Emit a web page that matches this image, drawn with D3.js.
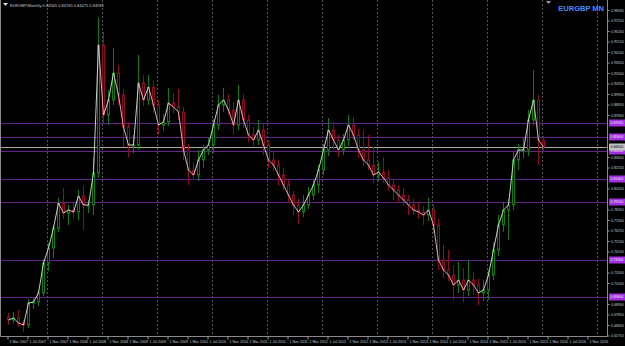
<!DOCTYPE html>
<html>
<head>
<meta charset="utf-8">
<script src="https://cdn.jsdelivr.net/npm/d3@7"></script>
<style>
	html, body { margin: 0; padding: 0; background: #000; }
	svg { display: block; font-family: "Liberation Sans", "DejaVu Sans", sans-serif; }
</style>
</head>
<body>
<svg id="chart"></svg>
<script>
// EURGBP monthly bars, Mar 2007 onwards
var openPrices = [
	0.6760,0.6730,0.6750,0.6700,0.6680,0.6900,0.6910,0.7000,0.7300,0.7450,
	0.7650,0.7900,0.7800,0.7830,0.7810,0.7970,0.7880,0.7880,0.8200,0.9480,
	0.8780,0.8930,0.9200,0.8980,0.8660,0.8480,0.8480,0.9100,0.8930,0.9060,
	0.8880,0.8680,0.8710,0.8900,0.8860,0.8810,0.8430,0.8230,0.8180,0.8330,
	0.8430,0.8480,0.8680,0.8880,0.8930,0.8830,0.8680,0.8930,0.8730,0.8580,
	0.8530,0.8630,0.8480,0.8330,0.8280,0.8180,0.8080,0.7980,0.7880,0.7810,
	0.7880,0.7980,0.8080,0.8230,0.8430,0.8630,0.8530,0.8430,0.8530,0.8680,
	0.8580,0.8430,0.8330,0.8280,0.8180,0.8210,0.8150,0.8080,0.8030,0.7980,
	0.7930,0.7880,0.7830,0.7810,0.7780,0.7830,0.7680,0.7330,0.7230,0.7180,
	0.7080,0.7130,0.7030,0.7130,0.7080,0.7000,0.7030,0.7180,0.7430,0.7680,
	0.7830,0.7880,0.8330,0.8430,0.8430,0.8730,0.8930,0.8530
];
var highPrices = [
	0.6800,0.6810,0.6830,0.6730,0.6940,0.6960,0.7030,0.7340,0.7500,0.7680,
	0.7950,0.8050,0.7880,0.7910,0.8030,0.8070,0.7930,0.8350,0.9760,0.9610,
	0.9030,0.9450,0.9280,0.9040,0.8710,0.8580,0.9380,0.9180,0.9180,0.9120,
	0.8930,0.8790,0.9050,0.9000,0.9040,0.8860,0.8490,0.8310,0.8430,0.8480,
	0.8550,0.8740,0.8980,0.9050,0.8990,0.8910,0.9080,0.8990,0.8780,0.8660,
	0.8730,0.8690,0.8530,0.8410,0.8330,0.8250,0.8130,0.8020,0.7940,0.7980,
	0.8060,0.8140,0.8280,0.8490,0.8750,0.8710,0.8580,0.8590,0.8780,0.8760,
	0.8640,0.8630,0.8580,0.8460,0.8310,0.8360,0.8230,0.8140,0.8080,0.8050,
	0.7980,0.7940,0.7910,0.7870,0.7950,0.7880,0.7740,0.7480,0.7430,0.7280,
	0.7310,0.7250,0.7330,0.7210,0.7140,0.7130,0.7230,0.7510,0.7780,0.7910,
	0.7940,0.8410,0.8490,0.8550,0.8830,0.9230,0.8980,0.8570
];
var lowPrices = [
	0.6680,0.6700,0.6660,0.6610,0.6650,0.6840,0.6870,0.6970,0.7220,0.7350,
	0.7610,0.7740,0.7680,0.7750,0.7730,0.7630,0.7800,0.7780,0.8150,0.8700,
	0.8680,0.8880,0.8880,0.8460,0.8360,0.8400,0.8430,0.8870,0.8880,0.8800,
	0.8580,0.8620,0.8670,0.8800,0.8730,0.8330,0.8080,0.8130,0.8120,0.8250,
	0.8380,0.8400,0.8630,0.8810,0.8780,0.8580,0.8630,0.8650,0.8510,0.8470,
	0.8480,0.8380,0.8250,0.8220,0.8080,0.8030,0.7900,0.7780,0.7690,0.7760,
	0.7840,0.7930,0.8000,0.8180,0.8370,0.8430,0.8360,0.8380,0.8470,0.8530,
	0.8350,0.8270,0.8230,0.8100,0.8120,0.8100,0.8020,0.7930,0.7900,0.7870,
	0.7780,0.7780,0.7740,0.7680,0.7720,0.7600,0.7230,0.7150,0.7120,0.6930,
	0.7000,0.6910,0.6970,0.6980,0.6880,0.6920,0.6930,0.7130,0.7370,0.7610,
	0.7530,0.7830,0.8230,0.8350,0.8370,0.8680,0.8280,0.8410
];
var closePrices = [
	0.6730,0.6750,0.6700,0.6680,0.6900,0.6910,0.7000,0.7300,0.7450,0.7650,
	0.7900,0.7800,0.7830,0.7810,0.7970,0.7880,0.7880,0.8200,0.9480,0.8780,
	0.8930,0.9200,0.8980,0.8660,0.8480,0.8480,0.9100,0.8930,0.9060,0.8880,
	0.8680,0.8710,0.8900,0.8860,0.8810,0.8430,0.8230,0.8180,0.8330,0.8430,
	0.8480,0.8680,0.8880,0.8930,0.8830,0.8680,0.8930,0.8730,0.8580,0.8530,
	0.8630,0.8480,0.8330,0.8280,0.8180,0.8080,0.7980,0.7880,0.7810,0.7880,
	0.7980,0.8080,0.8230,0.8430,0.8630,0.8530,0.8430,0.8530,0.8680,0.8580,
	0.8430,0.8330,0.8280,0.8180,0.8210,0.8150,0.8080,0.8030,0.7980,0.7930,
	0.7880,0.7830,0.7810,0.7780,0.7830,0.7680,0.7330,0.7230,0.7180,0.7080,
	0.7130,0.7030,0.7130,0.7080,0.7000,0.7030,0.7180,0.7430,0.7680,0.7830,
	0.7880,0.8330,0.8430,0.8430,0.8730,0.8930,0.8530,0.8460
];

// horizontal levels drawn on the chart, and the current bid
var levelPrices = [0.8700, 0.8560, 0.8420, 0.8140, 0.7910, 0.7330, 0.6960];
var bidPrice = 0.8460;

// right-hand price scale labels
var priceTicks = [
	0.9830,0.9725,0.9620,0.9515,0.9410,0.9305,0.9200,0.9095,0.8990,0.8885,
	0.8780,0.8675,0.8570,0.8465,0.8360,0.8255,0.8150,0.8045,0.7940,0.7835,
	0.7730,0.7625,0.7520,0.7415,0.7310,0.7205,0.7100,0.6995,0.6890,0.6785,
	0.6680,0.6575
];

// bottom time scale labels (one every 4 bars)
var timeLabels = [
	"1 Mar 2007","1 Jul 2007","1 Nov 2007","1 Mar 2008","1 Jul 2008","1 Nov 2008",
	"1 Mar 2009","1 Jul 2009","1 Nov 2009","1 Mar 2010","1 Jul 2010","1 Nov 2010",
	"1 Mar 2011","1 Jul 2011","1 Nov 2011","1 Mar 2012","1 Jul 2012","1 Nov 2012",
	"1 Mar 2013","1 Jul 2013","1 Nov 2013","1 Mar 2014","1 Jul 2014","1 Nov 2014",
	"1 Mar 2015","1 Jul 2015","1 Nov 2015","1 Mar 2016","1 Jul 2016","1 Nov 2016"
];

var W = 625, H = 346;
var plotRight = 607, plotBottom = 336;
var fmt = d3.format(".5f");

var months = d3.timeMonth.range(new Date(2007, 2, 1), new Date(2017, 2, 1));
var bars = closePrices.map(function(c, i) {
	return { month: months[i], o: openPrices[i], h: highPrices[i], l: lowPrices[i], c: c };
});

var svg = d3.select("#chart").attr("width", W).attr("height", H);
svg.append("rect").attr("width", W).attr("height", H).attr("fill", "#000");

var xScale = d3.scaleBand().domain(months).range([5.5, 605.5]).padding(0);
var yScale = d3.scaleLinear().domain([0.657, 0.993]).range([plotBottom, 0]);
var mid = function(d) { return Math.round(xScale(d) + xScale.bandwidth() / 2); };

// dashed vertical separators
var gridMonths = months.filter(function(d, i) { return i % 11 === 8; });
svg.append("g").selectAll("line").data(gridMonths).enter().append("line")
	.attr("x1", function(d) { return mid(d) - 0.5; })
	.attr("x2", function(d) { return mid(d) - 0.5; })
	.attr("y1", 0).attr("y2", plotBottom)
	.attr("stroke", "#555").attr("stroke-dasharray", "2,2");

// level lines
svg.append("g").selectAll("line").data(levelPrices).enter().append("line")
	.attr("x1", 0).attr("x2", plotRight)
	.attr("y1", function(d) { return Math.round(yScale(d)) + 0.5; })
	.attr("y2", function(d) { return Math.round(yScale(d)) + 0.5; })
	.attr("stroke", "#62248a").attr("stroke-width", 1);
svg.append("line")
	.attr("x1", 0).attr("x2", plotRight)
	.attr("y1", Math.round(yScale(bidPrice)) + 0.5).attr("y2", Math.round(yScale(bidPrice)) + 0.5)
	.attr("stroke", "#a8a8a8");

// candles
var up = "#0d7c0d", down = "#8c0c22";
var candles = svg.append("g").selectAll("g").data(bars).enter().append("g");
candles.append("line")
	.attr("x1", function(d) { return mid(d.month) + 0.5; })
	.attr("x2", function(d) { return mid(d.month) + 0.5; })
	.attr("y1", function(d) { return yScale(d.h); })
	.attr("y2", function(d) { return yScale(d.l); })
	.attr("stroke", function(d) { return d.c >= d.o ? up : down; });
candles.append("rect")
	.attr("x", function(d) { return mid(d.month) - 0.5; })
	.attr("width", 2)
	.attr("y", function(d) { return yScale(Math.max(d.o, d.c)); })
	.attr("height", function(d) { return Math.max(1, Math.abs(yScale(d.o) - yScale(d.c))); })
	.attr("fill", "#000")
	.attr("stroke", function(d) { return d.c >= d.o ? up : down; });

// close line, tinted by direction
var segs = d3.pairs(bars);
svg.append("g").selectAll("line").data(segs).enter().append("line")
	.attr("x1", function(d) { return mid(d[0].month) + 0.5; })
	.attr("x2", function(d) { return mid(d[1].month) + 0.5; })
	.attr("y1", function(d) { return yScale(d[0].c); })
	.attr("y2", function(d) { return yScale(d[1].c); })
	.attr("stroke", function(d) { return d[1].c >= d[0].c ? "#d6ecd6" : "#ecc6c6"; })
	.attr("stroke-width", 0.9);

// frame
svg.append("path")
	.attr("d", "M0.5,0V" + (plotBottom + 0.5) + "H" + (plotRight + 0.5) + "V0")
	.attr("fill", "none").attr("stroke", "#8a8a8a");

// price axis; labels hidden where a tag sits on top
var tagPrices = levelPrices.concat([bidPrice]);
var freeTicks = priceTicks.filter(function(p) {
	return !tagPrices.some(function(t) { return Math.abs(yScale(t) - yScale(p)) < 6; });
});
var yAxis = svg.append("g")
	.attr("transform", "translate(" + (plotRight + 0.5) + ",0)")
	.call(d3.axisRight(yScale).tickValues(freeTicks).tickFormat(fmt).tickSize(2).tickPadding(1.5));
yAxis.select(".domain").remove();
yAxis.selectAll("line").attr("stroke", "#9a9a9a");
yAxis.selectAll("text").attr("fill", "#c8c8c8").attr("font-size", 3.5);

// time axis
var tickMonths = months.filter(function(d, i) { return i % 4 === 0; });
var xAxis = svg.append("g")
	.attr("transform", "translate(0," + (plotBottom + 0.5) + ")")
	.call(d3.axisBottom(xScale).tickValues(tickMonths)
		.tickFormat(function(d, i) { return timeLabels[i]; }).tickSize(3).tickPadding(1.5));
xAxis.select(".domain").remove();
xAxis.selectAll("line").attr("stroke", "#9a9a9a");
xAxis.selectAll("text").attr("fill", "#c8c8c8").attr("font-size", 3.6)
	.attr("text-anchor", "start").attr("dx", 1.5).attr("dy", "0.6em");

// level / bid tags on the price axis
var tags = svg.append("g");
levelPrices.forEach(function(p) {
	var yy = Math.round(yScale(p));
	tags.append("rect").attr("x", 609).attr("y", yy - 3.5).attr("width", 16).attr("height", 7).attr("fill", "#a030e0");
	tags.append("text").attr("x", 610.5).attr("y", yy + 1.3).attr("font-size", 3.5).attr("fill", "#f4e8ff").text(fmt(p));
});
var by = Math.round(yScale(bidPrice));
tags.append("rect").attr("x", 609).attr("y", by - 3.5).attr("width", 16).attr("height", 7).attr("fill", "#c4c4c4");
tags.append("text").attr("x", 610.5).attr("y", by + 1.3).attr("font-size", 3.5).attr("fill", "#000").text(fmt(bidPrice));

// header texts
svg.append("path").attr("d", "M3,3h5l-2.5,3z").attr("fill", "#dddddd");
svg.append("text").attr("x", 10).attr("y", 6.5).attr("font-size", 4).attr("fill", "#c8c8c8")
	.text("EURGBP,Monthly  0.84565 0.84765 0.84475 0.84585");
svg.append("path").attr("d", "M546,1h5l-2.5,3z").attr("fill", "#9a9a9a");
svg.append("text").attr("x", 604).attr("y", 11).attr("text-anchor", "end")
	.attr("font-size", 7.5).attr("font-weight", "bold").attr("fill", "#4a8cff")
	.text("EURGBP MN");
</script>
</body>
</html>
